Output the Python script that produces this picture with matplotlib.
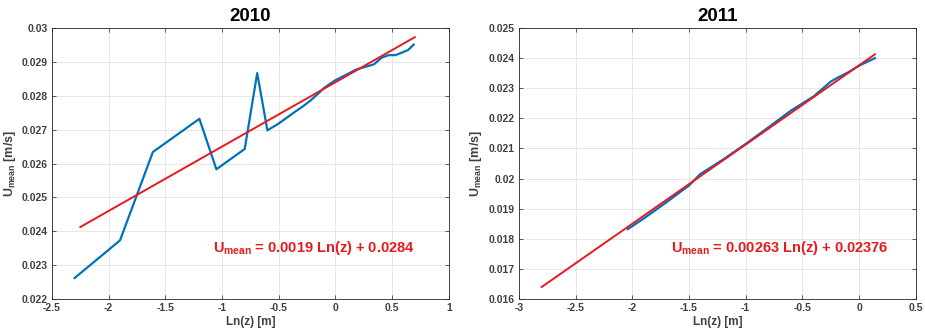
import matplotlib
matplotlib.use("Agg")
import matplotlib.pyplot as plt
import numpy as np

plt.rcParams['font.family'] = ['Liberation Sans', 'DejaVu Sans']
plt.rcParams['font.weight'] = 'bold'
plt.rcParams['mathtext.fontset'] = 'custom'
plt.rcParams['mathtext.rm'] = 'Liberation Sans:bold'
plt.rcParams['mathtext.bf'] = 'Liberation Sans:bold'

# 2010 profile: ln(z) vs mean velocity
lnz_2010 = [-2.30, -1.90, -1.61, -1.20, -1.05, -0.80, -0.69, -0.60, -0.51, -0.43,
            -0.36, -0.29, -0.22, -0.16, -0.10, -0.05, 0.00, 0.10, 0.18, 0.26,
            0.34, 0.41, 0.47, 0.53, 0.59, 0.64, 0.69]
u_2010 = [0.02262, 0.02373, 0.02634, 0.02732, 0.02583, 0.02643, 0.02867, 0.02698,
          0.02716, 0.02735, 0.02752, 0.02768, 0.02786, 0.02804, 0.02823, 0.02835,
          0.02846, 0.02863, 0.02877, 0.02885, 0.02893, 0.02913, 0.02920, 0.02920,
          0.02928, 0.02935, 0.02951]
fit_2010 = (0.0019, 0.0284)
fit_range_2010 = (-2.25, 0.70)

# 2011 profile
lnz_2011 = [-2.04, -1.90, -1.70, -1.50, -1.40, -1.20, -1.00, -0.80, -0.60,
            -0.40, -0.25, -0.20, -0.10, 0.00, 0.14]
u_2011 = [0.01832, 0.01867, 0.01921, 0.01977, 0.02015, 0.02063, 0.02115, 0.02170,
          0.02226, 0.02273, 0.02322, 0.02333, 0.02352, 0.02375, 0.02400]
fit_2011 = (0.00263, 0.02376)
fit_range_2011 = (-2.80, 0.14)

panels = [
    dict(title='2010', x=lnz_2010, y=u_2010, fit=fit_2010, rng=fit_range_2010,
         xlim=(-2.5, 1), xticks=np.arange(-2.5, 1.01, 0.5),
         ylim=(0.022, 0.03), yticks=np.arange(0.022, 0.03001, 0.001),
         ytl=['0.022', '0.023', '0.024', '0.025', '0.026', '0.027', '0.028', '0.029', '0.03'],
         txt_pos=(0.70, 0.0235)),
    dict(title='2011', x=lnz_2011, y=u_2011, fit=fit_2011, rng=fit_range_2011,
         xlim=(-3, 0.5), xticks=np.arange(-3, 0.51, 0.5),
         ylim=(0.016, 0.025), yticks=np.arange(0.016, 0.02501, 0.001),
         ytl=['0.016', '0.017', '0.018', '0.019', '0.02', '0.021', '0.022', '0.023', '0.024', '0.025'],
         txt_pos=(0.255, 0.0177)),
]

fig = plt.figure(figsize=(9.25, 3.3), dpi=100)
lefts = [0.0562, 0.561]
gray = '#404040'

for left, p in zip(lefts, panels):
    ax = fig.add_axes([left, 0.094, 0.429, 0.821])
    ax.plot(p['x'], p['y'], color='#0072BD', lw=1.6, zorder=3)
    a, b = p['fit']
    xf = np.array(p['rng'])
    ax.plot(xf, a * xf + b, color='#E8191E', lw=1.4, zorder=4)

    ax.set_xlim(*p['xlim'])
    ax.set_ylim(*p['ylim'])
    ax.set_xticks(p['xticks'])
    ax.set_xticklabels(['%g' % v for v in p['xticks']])
    ax.set_yticks(p['yticks'])
    ax.set_yticklabels(p['ytl'])
    ax.tick_params(direction='in', length=3, width=0.6, colors=gray,
                   labelsize=7.5, top=True, right=True, pad=3)
    for t in ax.get_xticklabels() + ax.get_yticklabels():
        t.set_fontweight('bold')
    for s in ax.spines.values():
        s.set_color('#262626')
        s.set_linewidth(0.6)
    ax.grid(True, color='#e3e3e3', lw=0.6)
    ax.set_axisbelow(True)

    ax.set_title(p['title'], fontsize=13.5, fontweight='bold', pad=5)
    ax.set_xlabel('Ln(z) [m]', fontsize=8.5, fontweight='bold', color=gray, labelpad=2)
    ax.set_ylabel(r'U$_{\mathrm{mean}}$ [m/s]', fontsize=9, fontweight='bold',
                  color=gray, labelpad=3)

    label = r'U$_{\mathrm{mean}}$ = %g Ln(z) + %g' % (a, b)
    ax.text(p['txt_pos'][0], p['txt_pos'][1], label, color='#E8191E',
            fontsize=10.5, fontweight='bold', ha='right', va='center')

fig.savefig('out.png', dpi=100)
